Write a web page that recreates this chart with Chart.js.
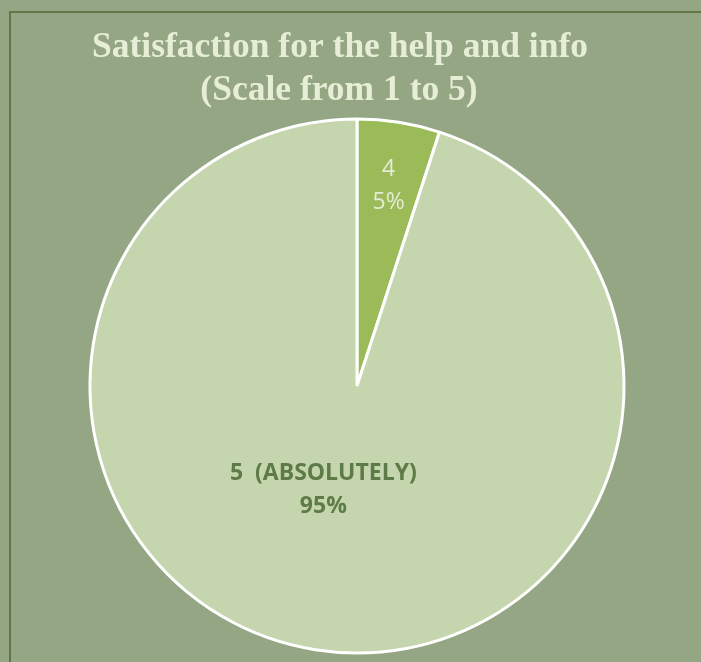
<!DOCTYPE html>
<html>
<head>
<meta charset="utf-8">
<script src="https://cdn.jsdelivr.net/npm/chart.js@4"></script>
<style>
  html, body { margin: 0; padding: 0; background: #95a684; }
  #wrap { width: 701px; height: 662px; position: relative; }
  canvas { display: block; }
</style>
</head>
<body>
<div id="wrap"><canvas id="c" width="701" height="662"></canvas></div>
<script>
// Answers on the 1–5 scale
const categories = ['4', '5  (ABSOLUTELY)'];
const shares = [5, 95];
const percentLabels = ['5%', '95%'];
const titleLines = ['Satisfaction for the help and info', '(Scale from 1 to 5)'];

const sliceColors = ['#9bbb59', '#c5d5ad'];
const labelColors = ['#e4ecd4', '#5e7a46'];
const labelWeights = ['normal', 'bold'];
// where each label sits inside its slice: share of the slice's angle, share of the radius
const labelAnchors = [
  { t: 0.5, r: 0.757 },
  { t: 0.526, r: 0.41 }
];

const framePlugin = {
  id: 'frame',
  beforeDraw(chart) {
    const ctx = chart.ctx;
    ctx.save();
    ctx.fillStyle = '#95a684';
    ctx.fillRect(0, 0, chart.width, chart.height);
    ctx.strokeStyle = '#5f7846';
    ctx.lineWidth = 2;
    ctx.strokeRect(10, 12, chart.width + 20, chart.height + 20);
    ctx.restore();
  }
};

const headingPlugin = {
  id: 'heading',
  afterDraw(chart) {
    const ctx = chart.ctx;
    ctx.save();
    ctx.font = 'bold 35.5px "Liberation Serif", "Times New Roman", serif';
    ctx.fillStyle = '#e6eed6';
    ctx.textAlign = 'center';
    ctx.textBaseline = 'alphabetic';
    ctx.fillText(titleLines[0], 340, 56.5);
    ctx.fillText(titleLines[1], 339, 100);
    ctx.restore();
  }
};

const sliceLabelPlugin = {
  id: 'sliceLabels',
  afterDatasetsDraw(chart) {
    const ctx = chart.ctx;
    const meta = chart.getDatasetMeta(0);
    ctx.save();
    ctx.textAlign = 'center';
    ctx.textBaseline = 'middle';
    meta.data.forEach((arc, i) => {
      const p = arc.getProps(['x', 'y', 'startAngle', 'endAngle', 'outerRadius'], true);
      const a = labelAnchors[i];
      const ang = p.startAngle + (p.endAngle - p.startAngle) * a.t;
      const d = p.outerRadius * a.r;
      const cx = p.x + Math.cos(ang) * d;
      const cy = p.y + Math.sin(ang) * d;
      ctx.fillStyle = labelColors[i];
      ctx.font = labelWeights[i] + ' 23px "Open Sans", sans-serif';
      ctx.fillText(categories[i], cx, cy - 16.5);
      ctx.fillText(percentLabels[i], cx, cy + 16.5);
    });
    ctx.restore();
  }
};

new Chart(document.getElementById('c'), {
  type: 'pie',
  data: {
    labels: categories,
    datasets: [{
      data: shares,
      backgroundColor: sliceColors,
      borderColor: '#ffffff',
      borderWidth: 3
    }]
  },
  options: {
    responsive: false,
    animation: false,
    radius: 267,
    layout: { padding: { left: 13, right: 0, top: 110, bottom: 0 } },
    plugins: {
      legend: { display: false },
      tooltip: { enabled: false },
      title: { display: false }
    }
  },
  plugins: [framePlugin, headingPlugin, sliceLabelPlugin]
});
</script>
</body>
</html>
